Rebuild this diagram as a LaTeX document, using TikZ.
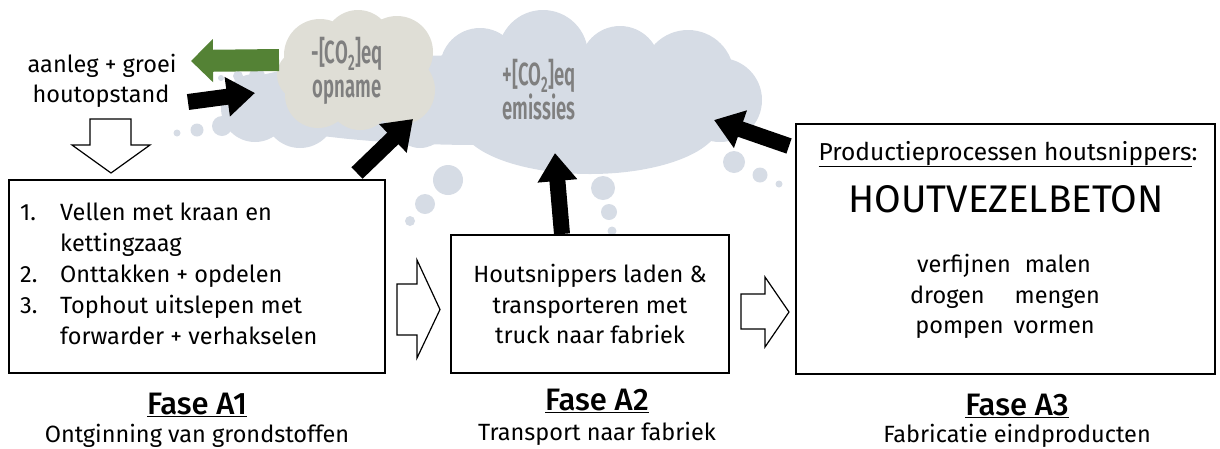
\documentclass[tikz,border=0pt]{standalone}
\usepackage{fontspec}
\setmainfont{Fira Sans}[BoldFont={Fira Sans Medium}]
\newfontfamily\condfont{Fira Sans SemiBold}[FakeStretch=0.58]
\usetikzlibrary{arrows.meta}
\definecolor{cloudblue}{HTML}{D6DCE5}
\definecolor{cloudbeige}{HTML}{DFDED6}
\definecolor{arrgreen}{HTML}{548235}
\definecolor{cotext}{HTML}{7F7F7F}
\tikzset{
  box/.style={draw=black, line width=1.3pt, fill=white, inner sep=0pt},
  txt/.style={font=\fontsize{23.5}{28}\selectfont, inner sep=0pt, anchor=base},
  fase/.style={font=\fontsize{31}{34}\selectfont\bfseries, inner sep=0pt, anchor=base},
  cotxt/.style={font=\fontsize{32}{34.5}\condfont, text=cotext, inner sep=0pt,
     align=center, anchor=north},
  blackarrow/.style={draw=black, line width=16pt, line cap=butt,
     -{Triangle[length=28pt, width=38pt]}},
  greenarrow/.style={draw=arrgreen, line width=22pt, line cap=butt,
     -{Triangle[length=22pt, width=42pt]}},
  blockarrow/.style={draw=black, line width=1.2pt, fill=white, line join=miter},
}
\begin{document}
\begin{tikzpicture}[x=1pt,y=-1pt]
\useasboundingbox (0,0) rectangle (1220,448);

% ---- blue cloud ----
\begin{scope}[fill=cloudblue]
  \fill (480,100) ellipse [x radius=262, y radius=45];
  \fill (590,122) ellipse [x radius=130, y radius=52];
  \fill (543,55) circle [radius=45];
  \fill (480,68) circle [radius=40];
  \fill (620,66) circle [radius=40];
  \fill (688,76) circle [radius=46];
  \fill (720,100) circle [radius=42];
  \fill (255,108) circle [radius=34];
  \fill (300,112) circle [radius=36];
  \fill (420,120) circle [radius=28];
  % thought bubbles
  \fill (177,133) circle [radius=3.5];
  \fill (197,130) circle [radius=6.5];
  \fill (222,126) circle [radius=10];
  \fill (221,78) circle [radius=3];
  \fill (238,76) circle [radius=5];
  \fill (257,76) circle [radius=8];
  \fill (448,180) circle [radius=15];
  \fill (425,204) circle [radius=10];
  \fill (410,221) circle [radius=5];
  \fill (603,188) circle [radius=12];
  \fill (609,212) circle [radius=8];
  \fill (612,231) circle [radius=4.5];
  \fill (734,162) circle [radius=11];
  \fill (760,175) circle [radius=7.5];
  \fill (779,184) circle [radius=3.5];
\end{scope}
% ---- beige cloud ----
\begin{scope}[fill=cloudbeige]
  \fill (320,55) circle [radius=36];
  \fill (358,44) circle [radius=34];
  \fill (397,52) circle [radius=36];
  \fill (318,95) circle [radius=33];
  \fill (360,98) circle [radius=32];
  \fill (400,90) circle [radius=35];
  \fill (302,75) circle [radius=25];
\end{scope}

\node[cotxt] (opname) at (347,37) {-[CO\textsubscript{2}]eq\\opname};
\node[cotxt] (emis) at (539,59) {+[CO\textsubscript{2}]eq\\emissies};

% ---- top-left text ----
\node[txt] (aanleg) at (102,72) {aanleg + groei};
\node[txt] (hout) at (101,102) {houtopstand};

% ---- boxes ----
\node[box, minimum width=376pt, minimum height=193pt] (a1) at (197,276.5) {};
\node[box, minimum width=278pt, minimum height=138pt] (a2) at (590,304) {};
\node[box, minimum width=419pt, minimum height=250pt] (a3) at (1005.5,249) {};

% A1 list
\node[txt, anchor=base west] (n1) at (20,220) {1.};
\node[txt, anchor=base west] (l1) at (60,220) {Vellen met kraan en};
\node[txt, anchor=base west] (l1b) at (60,251) {kettingzaag};
\node[txt, anchor=base west] (n2) at (20,282) {2.};
\node[txt, anchor=base west] (l2) at (60,282) {Onttakken + opdelen};
\node[txt, anchor=base west] (n3) at (20,313) {3.};
\node[txt, anchor=base west] (l3) at (60,313) {Tophout uitslepen met};
\node[txt, anchor=base west] (l3b) at (60,344) {forwarder + verhakselen};

% A2 text
\node[txt] (a2t1) at (590,282) {Houtsnippers laden \&};
\node[txt] (a2t2) at (590,313) {transporteren met};
\node[txt] (a2t3) at (590,343) {truck naar fabriek};

% A3 text
\node[txt, font=\fontsize{24.5}{28}\selectfont] (prod) at (1008,160) {\underline{Productieprocessen houtsnippers}:};
\node[font=\fontsize{38.5}{42}\selectfont, inner sep=0pt, anchor=base] (hvb) at (1006,212) {HOUTVEZELBETON};
\node[txt] (p1) at (1004,272) {verfijnen\hspace{14pt}malen};
\node[txt] (p2) at (1005,303) {drogen\hspace{30pt}mengen};
\node[txt] (p3) at (1005,333) {pompen\hspace{10pt}vormen};

% Fase labels
\node[fase] (f1) at (197,414) {\underline{Fase A1}};
\node[txt] (f1s) at (197,442) {Ontginning van grondstoffen};
\node[fase] (f2) at (597,410) {\underline{Fase A2}};
\node[txt] (f2s) at (597,440) {Transport naar fabriek};
\node[fase] (f3) at (1017,415) {\underline{Fase A3}};
\node[txt] (f3s) at (1017,442) {Fabricatie eindproducten};

% ---- arrows ----
\coordinate (g0) at (279,60);
\coordinate (g1) at (191,61);
\draw[greenarrow] (g0) -- (g1);

\coordinate (b1s) at (188,102);
\coordinate (b1e) at (255,93);
\draw[blackarrow] (b1s) -- (b1e);

\coordinate (b2s) at (357,173);
\coordinate (b2e) at (413,119);
\draw[blackarrow] (b2s) -- (b2e);

\coordinate (b3s) at (562,234);
\coordinate (b3e) at (555,153);
\draw[blackarrow] (b3s) -- (b3e);

\coordinate (b4s) at (789,146);
\coordinate (b4e) at (714,120);
\draw[blackarrow] (b4s) -- (b4e);

% white block arrows
\draw[blockarrow] (90,119) -- (131,119) -- (131,145) -- (150,145) -- (111,173)
   -- (72,145) -- (90,145) -- cycle;
\draw[blockarrow] (397,284) -- (417,284) -- (417,260) -- (440,309.5) -- (417,358)
   -- (417,335) -- (397,335) -- cycle;
\draw[blockarrow] (741,294) -- (765,294) -- (765,277) -- (789,312) -- (765,347)
   -- (765,329) -- (741,329) -- cycle;
\end{tikzpicture}
\end{document}
